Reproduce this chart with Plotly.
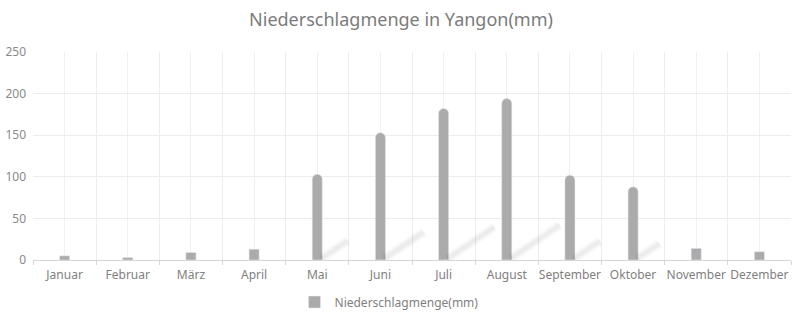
import plotly.graph_objects as go

months = ["Januar", "Februar", "März", "April", "Mai", "Juni", "Juli",
          "August", "September", "Oktober", "November", "Dezember"]
rain = [5, 3, 9, 13, 103, 153, 182, 194, 102, 88, 14, 10]
series_name = "Niederschlagmenge(mm)"
title = "Niederschlagmenge in Yangon(mm)"
y_ticks = [0, 50, 100, 150, 200, 250]

BAR = "#ababab"
FONT = "Noto Sans, Open Sans, sans-serif"
idx = list(range(len(months)))

fig = go.Figure()

# soft diagonal shadows behind the tall bars
sx, sy = [], []
for i, v in zip(idx, rain):
    if v >= 50:
        dx = min(v, 190) * 0.0041
        sx += [i + 0.06, i + 0.06 + dx, None]
        sy += [1.5, 1.5 + v * 0.21, None]
for w, c in [(10, "rgba(0,0,0,0.02)"), (7, "rgba(0,0,0,0.025)"), (4, "rgba(0,0,0,0.03)")]:
    fig.add_trace(go.Scatter(x=sx, y=sy, mode="lines", line=dict(color=c, width=w),
                             showlegend=False, hoverinfo="skip"))

big_x = [i for i, v in zip(idx, rain) if v >= 50]
big_y = [v for v in rain if v >= 50]
small_x = [i for i, v in zip(idx, rain) if v < 50]
small_y = [v for v in rain if v < 50]

fig.add_trace(go.Bar(x=small_x, y=small_y, width=0.16, marker=dict(color=BAR),
                     name=series_name, legendgroup="a", showlegend=True))
fig.add_trace(go.Bar(x=big_x, y=big_y, width=0.16, marker=dict(color=BAR, cornerradius=5),
                     name=series_name, legendgroup="a", showlegend=False))

fig.update_layout(
    width=802, height=322,
    margin=dict(l=33, r=11, t=52, b=62, autoexpand=False),
    paper_bgcolor="white", plot_bgcolor="white",
    barmode="overlay",
    title=dict(text=title, x=0.5, xanchor="center", y=0.94, yanchor="middle",
               font=dict(family=FONT, size=18, color="#7b7b7b")),
    font=dict(family=FONT, size=12, color="#7f7f7f"),
    showlegend=True,
    legend=dict(orientation="h", x=0.345, xanchor="left", yref="container",
                y=0.062, yanchor="middle",
                font=dict(size=12, color="#7f7f7f"), itemwidth=30),
    xaxis=dict(range=[-0.5, 11.5], tickmode="array", tickvals=idx, ticktext=months,
               showgrid=True, gridcolor="#f0f0f0", gridwidth=1,
               showline=True, linecolor="#d6d6d6", linewidth=1,
               ticks="", ticklabelstandoff=4, tickfont=dict(size=12, color="#7f7f7f"),
               minor=dict(tick0=-0.5, dtick=1, showgrid=True, gridcolor="#ececec",
                          ticks="outside", ticklen=4, tickcolor="#d6d6d6"),
               zeroline=False, fixedrange=True),
    yaxis=dict(range=[0, 250], tickmode="array", tickvals=y_ticks,
               showgrid=True, gridcolor="#ececec", gridwidth=1,
               zeroline=False, showline=False, ticks="", ticklabelstandoff=6,
               tickfont=dict(size=12, color="#8a8a8a"), fixedrange=True),
)

fig.write_html("out.html")
